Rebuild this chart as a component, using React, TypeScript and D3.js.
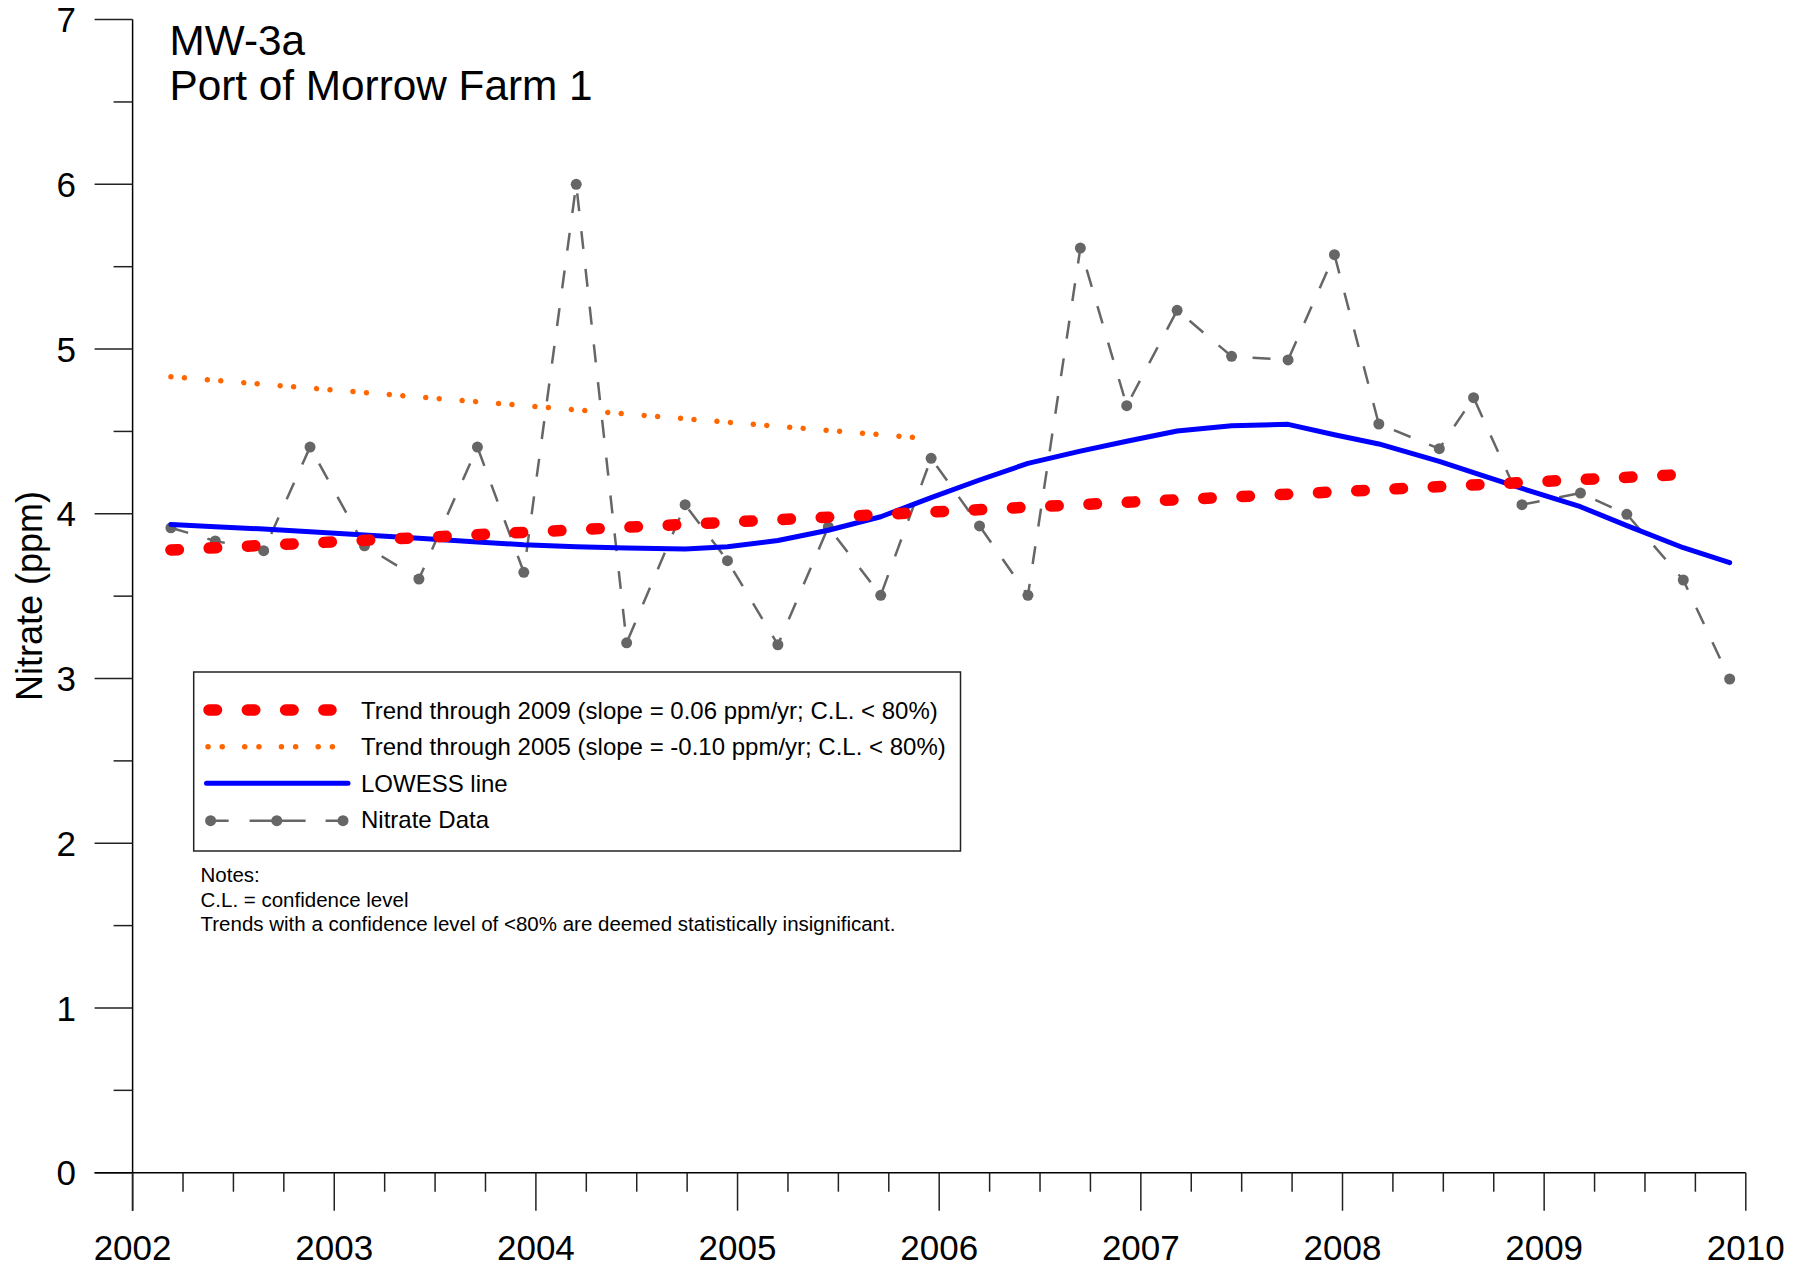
import React from "react";
import * as d3 from "d3";

// ---- Data ----
const sampleYears = [
  2002.19, 2002.41, 2002.65, 2002.88, 2003.15, 2003.42, 2003.71, 2003.94,
  2004.2, 2004.45, 2004.74, 2004.95, 2005.2, 2005.45, 2005.71, 2005.96,
  2006.2, 2006.44, 2006.7, 2006.93, 2007.18, 2007.45, 2007.73, 2007.96,
  2008.18, 2008.48, 2008.65, 2008.89, 2009.18, 2009.41, 2009.69, 2009.92,
];
const nitrateValues = [
  3.915, 3.835, 3.776, 4.405, 3.806, 3.604, 4.405, 3.645,
  6.0, 3.217, 4.055, 3.715, 3.205, 3.92, 3.505, 4.337,
  3.926, 3.505, 5.613, 4.656, 5.235, 4.956, 4.934, 5.573,
  4.545, 4.395, 4.705, 4.055, 4.126, 3.997, 3.598, 2.997,
];
const lowessValues = [
  3.935, 3.922, 3.907, 3.891, 3.871, 3.851, 3.829, 3.812,
  3.8, 3.792, 3.786, 3.8, 3.838, 3.9, 3.982, 4.098,
  4.205, 4.306, 4.38, 4.44, 4.503, 4.535, 4.543, 4.48,
  4.424, 4.318, 4.25, 4.154, 4.043, 3.928, 3.794, 3.703,
];
const trend2009Years = [2002.19, 2009.63];
const trend2009Values = [3.78, 4.235];
const trend2005Years = [2002.19, 2005.87];
const trend2005Values = [4.832, 4.464];

const yMajorTicks = [0, 1, 2, 3, 4, 5, 6, 7];
const xMajorTicks = [2002, 2003, 2004, 2005, 2006, 2007, 2008, 2009, 2010];
const titleLines = ["MW-3a", "Port of Morrow Farm 1"];
const legendLabels = [
  "Trend through 2009 (slope = 0.06 ppm/yr; C.L. < 80%)",
  "Trend through 2005 (slope = -0.10 ppm/yr; C.L. < 80%)",
  "LOWESS line",
  "Nitrate Data",
];
const noteLines = [
  "Notes:",
  "C.L. = confidence level",
  "Trends with a confidence level of <80% are deemed statistically insignificant.",
];
const yAxisTitle = "Nitrate (ppm)";

// ---- Layout ----
const W = 1808;
const H = 1269;
const FONT = "'Liberation Sans', Arial, Helvetica, sans-serif";
const X0 = 132.6;
const X1 = 1745.8;
const Y0 = 1172.7;
const Y1 = 19.6;

const RED = "#ff0000";
const ORANGE = "#ff6600";
const BLUE = "#0000ff";
const GRAY = "#666666";

export default function App() {
  const x = d3.scaleLinear().domain([2002, 2010]).range([X0, X1]);
  const y = d3.scaleLinear().domain([0, 7]).range([Y0, Y1]);

  const line = d3
    .line<[number, number]>()
    .x((d) => x(d[0]))
    .y((d) => y(d[1]));

  const dataPts: [number, number][] = sampleYears.map((t, i) => [t, nitrateValues[i]]);
  const lowPts: [number, number][] = sampleYears.map((t, i) => [t, lowessValues[i]]);
  const t09: [number, number][] = trend2009Years.map((t, i) => [t, trend2009Values[i]]);
  const t05: [number, number][] = trend2005Years.map((t, i) => [t, trend2005Values[i]]);

  const yMinor = d3.range(0, 7, 0.5).filter((v) => !Number.isInteger(v));
  const xMinor = d3.range(2002, 2010.001, 0.25).filter((v) => Math.abs(v - Math.round(v)) > 1e-6);

  // legend geometry
  const lgX = 193.7, lgY = 672, lgW = 766.8, lgH = 179;
  const rowY = [710, 746.7, 783.3, 820.7];
  const textY = [718.7, 755, 791.7, 828.3];
  const sampleX0 = 203, sampleX1 = 337;

  return (
    <svg
      width={W}
      height={H}
      style={{ position: "absolute", left: 0, top: 0, background: "#fff" }}
      fontFamily={FONT}
    >
      <rect x={0} y={0} width={W} height={H} fill="#fff" />

      {/* Title */}
      <text x={169.5} y={55} fontSize={42.3} fill="#000">{titleLines[0]}</text>
      <text x={169.5} y={100} fontSize={42.3} fill="#000">{titleLines[1]}</text>

      {/* Y axis */}
      <line x1={X0} x2={X0} y1={Y1} y2={Y0 + 38} stroke="#000" strokeWidth={1.5} />
      {yMajorTicks.map((v) => (
        <g key={"ym" + v}>
          <line x1={X0 - 38} x2={X0} y1={y(v)} y2={y(v)} stroke="#222" strokeWidth={1.5} />
          <text x={76} y={y(v)} dy="0.36em" fontSize={35} textAnchor="end" fill="#000">
            {v}
          </text>
        </g>
      ))}
      {yMinor.map((v) => (
        <line key={"yn" + v} x1={X0 - 19} x2={X0} y1={y(v)} y2={y(v)} stroke="#222" strokeWidth={1.5} />
      ))}
      <text
        transform={`translate(29, 596) rotate(-90)`}
        fontSize={36}
        textAnchor="middle"
        dy="0.36em"
        fill="#000"
      >
        {yAxisTitle}
      </text>

      {/* X axis */}
      <line x1={X0 - 38} x2={X1} y1={Y0} y2={Y0} stroke="#000" strokeWidth={1.5} />
      {xMajorTicks.map((v) => (
        <g key={"xm" + v}>
          <line x1={x(v)} x2={x(v)} y1={Y0} y2={Y0 + 38} stroke="#222" strokeWidth={1.5} />
          <text x={x(v)} y={1260} fontSize={35} textAnchor="middle" fill="#000">
            {v}
          </text>
        </g>
      ))}
      {xMinor.map((v) => (
        <line key={"xn" + v} x1={x(v)} x2={x(v)} y1={Y0} y2={Y0 + 19} stroke="#222" strokeWidth={1.5} />
      ))}

      {/* Nitrate data */}
      <path d={line(dataPts) || ""} fill="none" stroke={GRAY} strokeWidth={2.5} strokeDasharray="18 20" />
      {dataPts.map((d, i) => (
        <circle key={"p" + i} cx={x(d[0])} cy={y(d[1])} r={5.5} fill={GRAY} />
      ))}

      {/* Trend through 2005 */}
      <path
        d={line(t05) || ""}
        fill="none"
        stroke={ORANGE}
        strokeWidth={5.5}
        strokeLinecap="round"
        strokeDasharray="0.01 13.5 0.01 23"
      />

      {/* LOWESS */}
      <path d={line(lowPts) || ""} fill="none" stroke={BLUE} strokeWidth={5} strokeLinejoin="round" strokeLinecap="round" />

      {/* Trend through 2009 */}
      <path
        d={line(t09) || ""}
        fill="none"
        stroke={RED}
        strokeWidth={11.5}
        strokeLinecap="round"
        strokeDasharray="7.5 30.8"
      />

      {/* Legend */}
      <rect x={lgX} y={lgY} width={lgW} height={lgH} fill="#fff" stroke="#222" strokeWidth={1.5} />
      <line x1={sampleX0 + 6} x2={sampleX1 - 6} y1={rowY[0]} y2={rowY[0]} stroke={RED} strokeWidth={11.5} strokeLinecap="round" strokeDasharray="7.5 30.8" />
      <line x1={208} x2={334} y1={rowY[1]} y2={rowY[1]} stroke={ORANGE} strokeWidth={5.5} strokeLinecap="round" strokeDasharray="0.01 14.2 0.01 22.5" />
      <line x1={206.5} x2={348} y1={rowY[2]} y2={rowY[2]} stroke={BLUE} strokeWidth={5} strokeLinecap="round" />
      <line x1={210.6} x2={343} y1={rowY[3]} y2={rowY[3]} stroke={GRAY} strokeWidth={2.5} strokeDasharray="18 21 56 20 18" />
      {[210.6, 276.8, 343].map((cx, i) => (
        <circle key={"lg" + i} cx={cx} cy={rowY[3]} r={5.5} fill={GRAY} />
      ))}
      {legendLabels.map((s, i) => (
        <text key={"lt" + i} x={361} y={textY[i]} fontSize={24} fill="#000">
          {s}
        </text>
      ))}

      {/* Notes */}
      {noteLines.map((s, i) => (
        <text key={"n" + i} x={200.5} y={[881.7, 906.7, 931.2][i]} fontSize={20.5} fill="#000">
          {s}
        </text>
      ))}
    </svg>
  );
}
